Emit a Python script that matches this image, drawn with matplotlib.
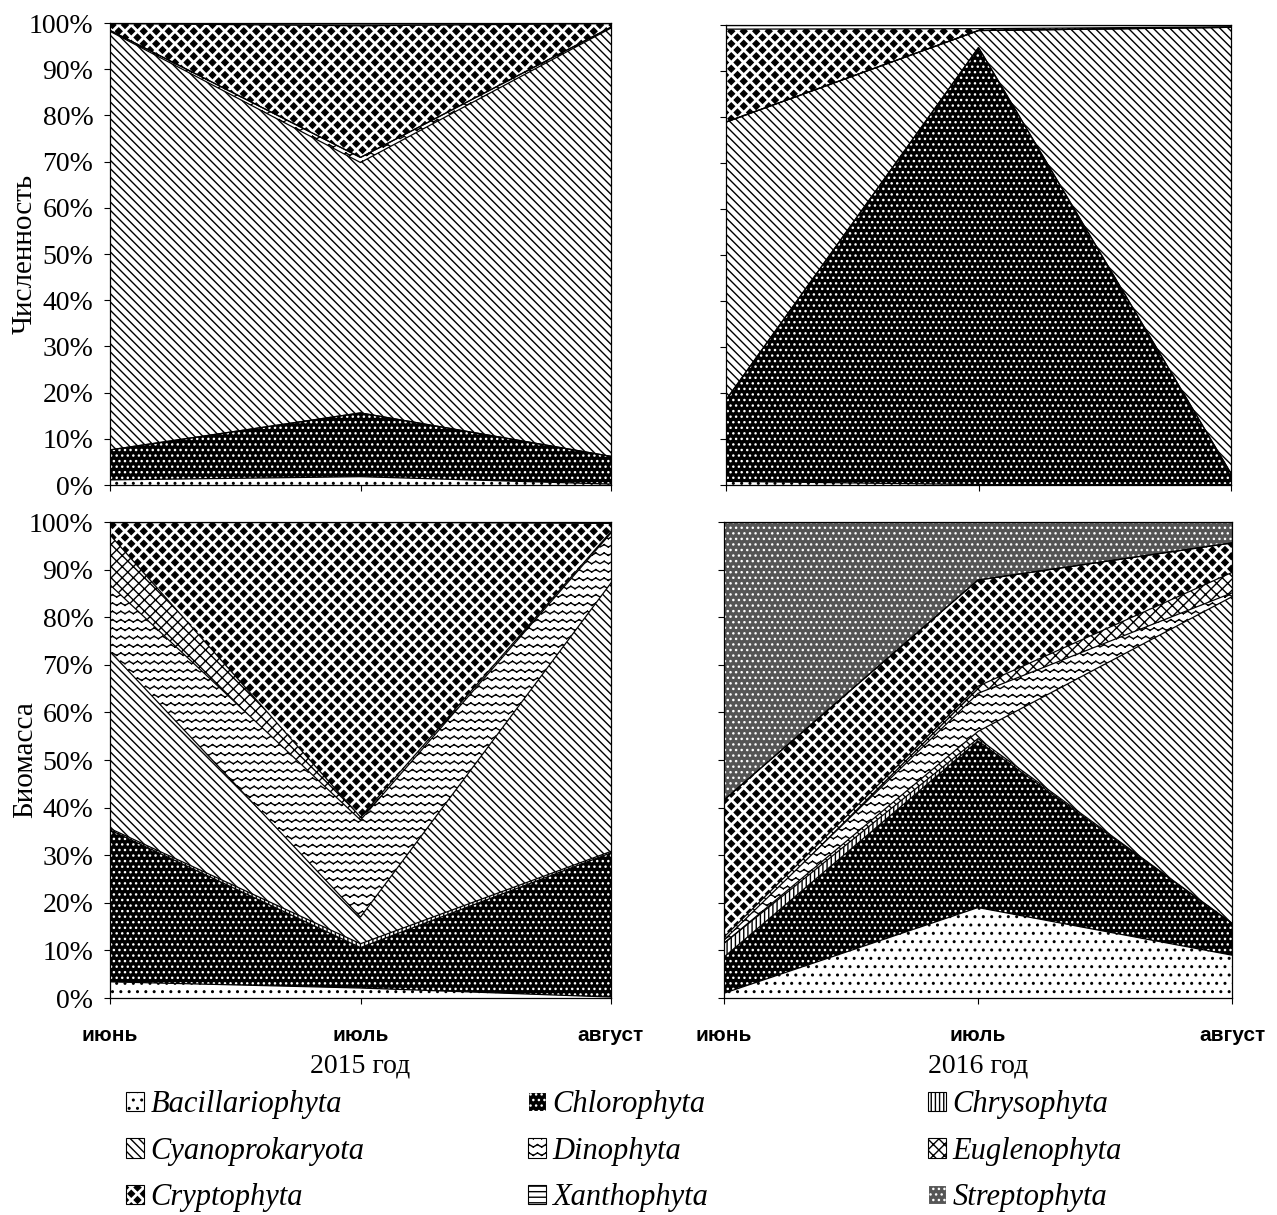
import warnings
import numpy as np
import matplotlib
matplotlib.use('Agg')
import matplotlib.pyplot as plt
import matplotlib.hatch as mhatch
from matplotlib.path import Path
from matplotlib.patches import Patch
from matplotlib.font_manager import FontProperties

warnings.filterwarnings('ignore')  # custom hatch characters give a deprecation note

taxa = ['Bacillariophyta', 'Chlorophyta', 'Chrysophyta', 'Cyanoprokaryota',
        'Dinophyta', 'Euglenophyta', 'Cryptophyta', 'Xanthophyta', 'Streptophyta']
months = ['июнь', 'июль', 'август']

# shares, %; rows follow taxa, columns follow months
num_2015 = [[1.1, 1.8, 0.2],
            [6.5, 13.8, 6.0],
            [0.0, 0.0, 0.0],
            [90.6, 54.2, 92.7],
            [0.2, 1.1, 0.2],
            [0.0, 0.0, 0.0],
            [1.5, 28.5, 0.8],
            [0.1, 0.6, 0.1],
            [0.0, 0.0, 0.0]]
num_2016 = [[0.8, 0.1, 0.1],
            [17.7, 95.0, 2.4],
            [0.0, 0.0, 0.0],
            [60.4, 3.7, 97.0],
            [0.0, 0.0, 0.0],
            [0.0, 0.0, 0.0],
            [20.2, 0.4, 0.1],
            [0.9, 0.8, 0.4],
            [0.0, 0.0, 0.0]]
bio_2015 = [[3.4, 2.1, 0.2],
            [31.9, 8.5, 30.3],
            [0.3, 0.8, 0.3],
            [37.2, 5.6, 56.4],
            [14.0, 20.4, 10.5],
            [10.5, 0.6, 0.3],
            [2.7, 62.0, 1.7],
            [0.0, 0.0, 0.3],
            [0.0, 0.0, 0.0]]
bio_2016 = [[1.0, 19.0, 9.0],
            [7.6, 35.0, 6.7],
            [2.9, 0.5, 0.0],
            [0.0, 1.5, 68.6],
            [0.7, 8.0, 0.8],
            [0.6, 1.5, 4.3],
            [28.8, 22.3, 6.2],
            [0.0, 0.0, 0.0],
            [58.4, 12.2, 4.4]]


# extra hatches: '~' wavy lines, 'd' filled diamonds
class WaveHatch(mhatch.HatchPatternBase):
    def __init__(self, hatch, density):
        self.num_lines = hatch.count('~') * 6
        self.num_waves = 12
        self.num_vertices = self.num_lines * self.num_waves * 4

    def set_vertices_and_codes(self, vertices, codes):
        if not self.num_lines:
            return
        xs = np.linspace(0, 1, 2 * self.num_waves + 1)
        ys = np.where(np.arange(xs.size) % 2 == 0, -0.012, 0.012)
        sx = np.repeat(xs, 2)[1:-1]
        sy = np.repeat(ys, 2)[1:-1]
        m = sx.size
        step = 1.0 / self.num_lines
        for i in range(self.num_lines):
            vertices[i * m:(i + 1) * m, 0] = sx
            vertices[i * m:(i + 1) * m, 1] = sy + (i + 0.5) * step
        codes[0::2] = Path.MOVETO
        codes[1::2] = Path.LINETO


class DiamondHatch(mhatch.HatchPatternBase):
    def __init__(self, hatch, density):
        self.n = hatch.count('d') * 8
        if self.n == 0:
            self.num_vertices = 0
        else:
            self.num_vertices = (self.n + 1) * (2 * self.n + 1) * 5

    def set_vertices_and_codes(self, vertices, codes):
        n = self.n
        a = 1.0 / n
        h = 0.26 * a
        shape = np.array([[0, h], [h, 0], [0, -h], [-h, 0], [0, h]])
        scodes = [Path.MOVETO, Path.LINETO, Path.LINETO, Path.LINETO, Path.CLOSEPOLY]
        k = 0
        for row in range(2 * n + 1):
            shift = 0 if row % 2 == 0 else a / 2
            for col in range(n + 1):
                vertices[k:k + 5] = shape + [col * a + shift, row * a / 2]
                codes[k:k + 5] = scodes
                k += 5


mhatch._hatch_types.append(WaveHatch)
mhatch._hatch_types.append(DiamondHatch)

# (face, hatch colour, hatch) per taxon
styles = [('white', 'black', '..'),
          ('black', 'white', '...'),
          ('white', 'black', '||||'),
          ('white', 'black', '\\\\\\\\'),
          ('white', 'black', '~~'),
          ('white', 'black', 'xxx'),
          ('white', 'black', 'd'),
          ('white', 'black', '---'),
          ('#555555', 'white', '...')]

plt.rcParams['font.family'] = 'Liberation Serif'
plt.rcParams['hatch.linewidth'] = 1.0

W, H = 1277, 1215
fig = plt.figure(figsize=(W / 100, H / 100), dpi=100)


def box(l, t, r, b):
    return [l / W, 1 - b / H, (r - l) / W, (b - t) / H]


ax_tl = fig.add_axes(box(110, 23, 611, 485))
ax_tr = fig.add_axes(box(726, 25, 1231, 485))
ax_bl = fig.add_axes(box(110, 522, 611, 998))
ax_br = fig.add_axes(box(724, 522, 1232, 998))


def draw_panel(ax, shares):
    data = np.array(shares, dtype=float)
    data = data / data.sum(axis=0) * 100
    x = np.arange(len(months))
    base = np.zeros(len(months))
    for vals, (fc, hc, hatch) in zip(data, styles):
        top = base + vals
        ax.fill_between(x, base, top, facecolor=fc, edgecolor=hc,
                        hatch=hatch, linewidth=0)
        base = top
    base = np.zeros(len(months))
    for vals in data[:-1]:
        base = base + vals
        ax.plot(x, base, color='black', lw=0.9)
    ax.set_xlim(0, 2)
    ax.set_ylim(0, 100)
    ax.set_xticks(x)
    ax.set_yticks(np.arange(0, 101, 10))
    ax.set_yticklabels([f'{v}%' for v in range(0, 101, 10)])
    ax.tick_params(length=4, width=0.8, pad=8)
    ax.tick_params(axis='y', labelsize=20)
    for s in ax.spines.values():
        s.set_linewidth(0.9)


draw_panel(ax_tl, num_2015)
draw_panel(ax_tr, num_2016)
draw_panel(ax_bl, bio_2015)
draw_panel(ax_br, bio_2016)

for ax in (ax_tl, ax_tr):
    ax.set_xticklabels([])
for ax in (ax_tr, ax_br):
    ax.set_yticklabels([])
for ax in (ax_bl, ax_br):
    ax.set_xticklabels(months, family='Liberation Sans', weight='bold', size=15)
    ax.tick_params(axis='x', pad=16)

ax_tl.set_ylabel('Численность', size=21)
ax_bl.set_ylabel('Биомасса', size=21)
ax_tl.yaxis.set_label_coords(-0.144, 0.5)
ax_bl.yaxis.set_label_coords(-0.144, 0.5)
ax_bl.set_xlabel('2015 год', size=20, labelpad=6)
ax_br.set_xlabel('2016 год', size=20, labelpad=6)

handles = [Patch(facecolor=fc, edgecolor=hc, hatch=hatch, lw=0.8)
           for fc, hc, hatch in styles]
leg_font = FontProperties(family='Liberation Serif', style='italic', size=22)
for col, xl in enumerate([126, 528, 928]):
    idx = [col, col + 3, col + 6]
    fig.legend([handles[i] for i in idx], [taxa[i] for i in idx],
               loc='upper left', bbox_to_anchor=(xl / W, 1 - 1090 / H),
               frameon=False, borderpad=0, borderaxespad=0,
               handlelength=0.6, handleheight=0.6, handletextpad=0.2,
               labelspacing=0.58, prop=leg_font)

fig.savefig('out.png', dpi=100)
